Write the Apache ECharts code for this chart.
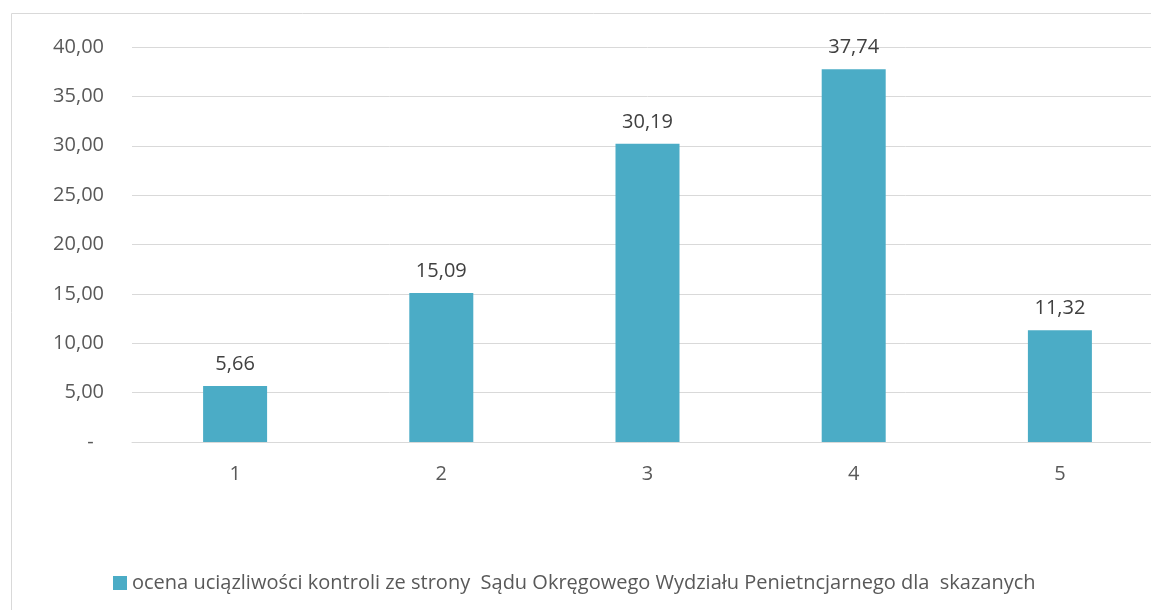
<!DOCTYPE html>
<html><head><meta charset="utf-8">
<script src="https://cdn.jsdelivr.net/npm/echarts@6/dist/echarts.min.js"></script>
<style>html,body{margin:0;padding:0;background:#fff;overflow:hidden;width:1151px;height:610px}#c{width:1175px;height:610px}</style>
</head><body><div id="c"></div>
<script>
const categories = ['1', '2', '3', '4', '5'];
const values = [5.66, 15.09, 30.19, 37.74, 11.32];
const seriesName = 'ocena uciązliwości kontroli ze strony  Sądu Okręgowego Wydziału Penietncjarnego dla  skazanych';
const yTicks = { min: 0, max: 40, interval: 5 };

const fmt = v => v === 0 ? '-\u00a0\u00a0' : v.toFixed(2).replace('.', ',');
const FONT = '"Open Sans", "Noto Sans", sans-serif';
const chart = echarts.init(document.getElementById('c'));
chart.setOption({
  animation: false,
  textStyle: { fontFamily: FONT },
  graphic: [{ type: 'rect', shape: { x: 11.5, y: 13.5, width: 1200, height: 700 }, style: { fill: 'none', stroke: '#d9d9d9', lineWidth: 1 }, z: -1 }],
  grid: { left: 132, top: 47, width: 1031, height: 395 },
  legend: {
    left: 108, top: 568, itemWidth: 14, itemHeight: 14, itemGap: 5,
    textStyle: { color: '#595959', fontSize: 20, fontFamily: FONT },
    data: [{ name: seriesName, icon: 'rect' }]
  },
  xAxis: {
    type: 'category', data: categories,
    axisLine: { lineStyle: { color: '#d9d9d9' } }, axisTick: { show: false },
    axisLabel: { color: '#595959', fontSize: 20, margin: 22, fontFamily: FONT }
  },
  yAxis: {
    type: 'value', min: yTicks.min, max: yTicks.max, interval: yTicks.interval,
    axisLine: { show: false }, axisTick: { show: false },
    splitLine: { lineStyle: { color: '#d9d9d9', width: 1 } },
    axisLabel: { color: '#595959', fontSize: 20, margin: 28, formatter: fmt, fontFamily: FONT }
  },
  series: [{
    name: seriesName, type: 'bar', data: values, barWidth: 64,
    itemStyle: { color: '#4bacc6' },
    label: { show: true, position: 'top', distance: 12, color: '#404040', fontSize: 20, formatter: p => fmt(p.value), fontFamily: FONT }
  }]
});
</script></body></html>
